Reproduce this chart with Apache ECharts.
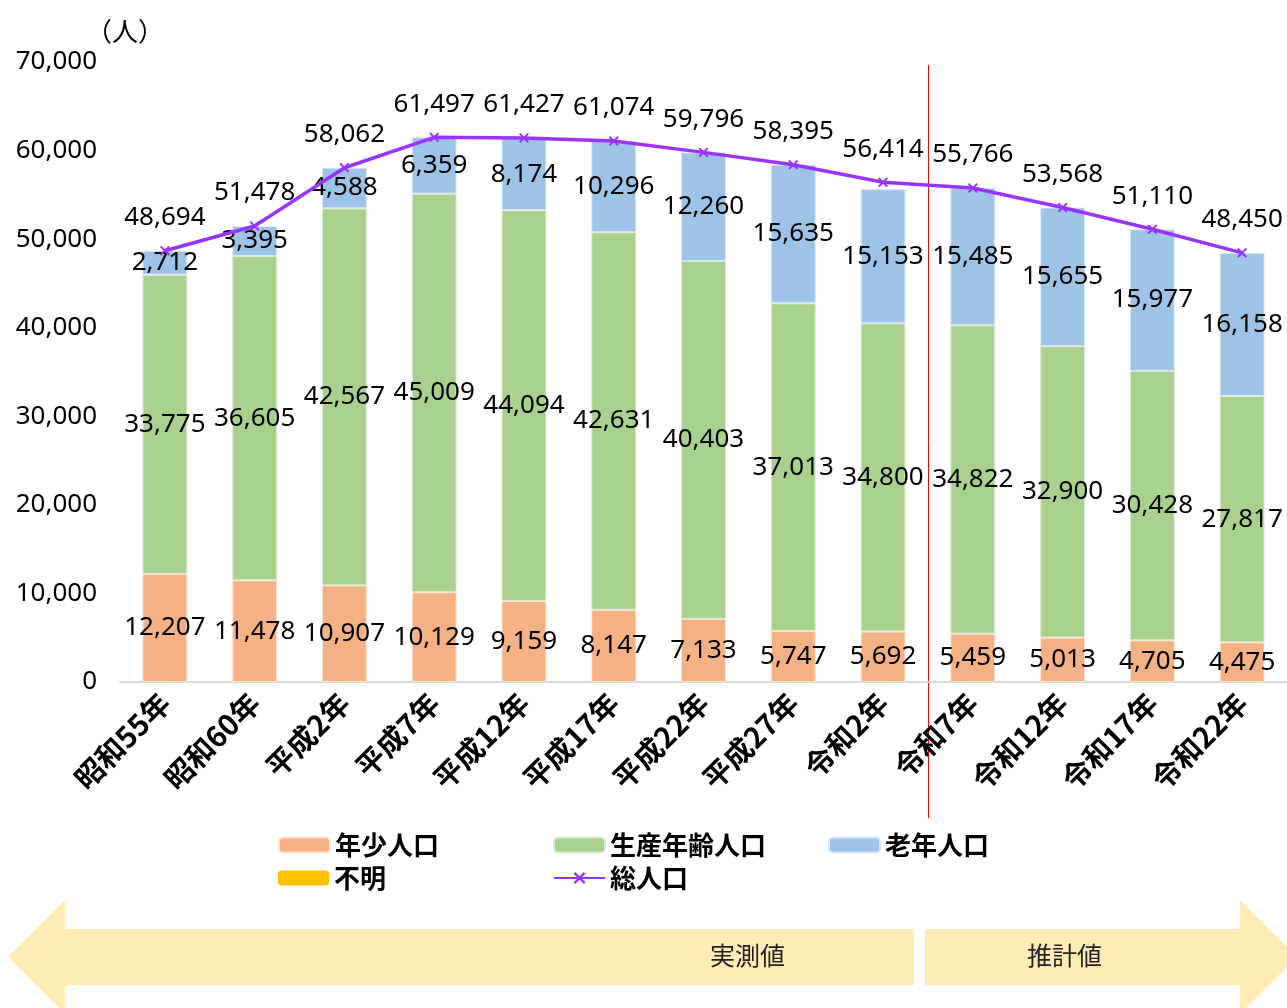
<!DOCTYPE html>
<html>
<head>
<meta charset="utf-8">
<script src="https://cdn.jsdelivr.net/npm/echarts@6/dist/echarts.min.js"></script>
<style>
  html, body { margin: 0; padding: 0; background: #fff; }
  #main { width: 1287px; height: 1008px; }
</style>
</head>
<body>
<div id="main"></div>
<script>
var years = ['昭和55年', '昭和60年', '平成2年', '平成7年', '平成12年', '平成17年', '平成22年',
  '平成27年', '令和2年', '令和7年', '令和12年', '令和17年', '令和22年'];
var young = [12207, 11478, 10907, 10129, 9159, 8147, 7133, 5747, 5692, 5459, 5013, 4705, 4475];
var working = [33775, 36605, 42567, 45009, 44094, 42631, 40403, 37013, 34800, 34822, 32900, 30428, 27817];
var elderly = [2712, 3395, 4588, 6359, 8174, 10296, 12260, 15635, 15153, 15485, 15655, 15977, 16158];
var unknown = [0, 0, 0, 0, 0, 0, 0, 0, 0, 0, 0, 0, 0];
var total = [48694, 51478, 58062, 61497, 61427, 61074, 59796, 58395, 56414, 55766, 53568, 51110, 48450];
var yTicks = { min: 0, max: 70000, interval: 10000 };

var numFont = "'Noto Sans', 'Noto Sans CJK JP', sans-serif";
var jpFont = "'Noto Sans CJK JP', sans-serif";
var purple = '#9933ff';

function fmt(v) {
  return String(v).replace(/\B(?=(\d{3})+(?!\d))/g, ',');
}

var segLabel = {
  show: true,
  position: 'inside',
  color: '#000',
  fontSize: 26,
  fontFamily: numFont,
  padding: [5, 0, 0, 0],
  formatter: function (p) { return fmt(p.value); }
};

var xMark = 'path://M0,1.4L1.4,0L5,3.6L8.6,0L10,1.4L6.4,5L10,8.6L8.6,10L5,6.4L1.4,10L0,8.6L3.6,5Z';

function legendAt(name, left, top) {
  return {
    data: [name],
    left: left,
    top: top,
    itemWidth: 51,
    itemHeight: 15,
    itemGap: 0,
    selectedMode: false,
    textStyle: { fontSize: 26, fontWeight: 'bold', color: '#000', fontFamily: jpFont }
  };
}

var myChart = echarts.init(document.getElementById('main'));
var option = {
  animation: false,
  backgroundColor: '#fff',
  grid: { left: 120, right: 0, top: 62, bottom: 326 },
  legend: [
    legendAt('年少人口', 273, 827),
    legendAt('生産年齢人口', 548, 827),
    legendAt('老年人口', 823, 827),
    legendAt('不明', 273, 860),
    legendAt('総人口', 548, 860)
  ],
  xAxis: {
    type: 'category',
    data: years,
    axisLine: { lineStyle: { color: '#d9d9d9', width: 2 } },
    axisTick: { show: false },
    axisLabel: {
      rotate: 45,
      interval: 0,
      margin: 16,
      fontSize: 29,
      fontWeight: 'bold',
      color: '#000',
      fontFamily: jpFont
    }
  },
  yAxis: {
    type: 'value',
    min: yTicks.min,
    max: yTicks.max,
    interval: yTicks.interval,
    name: '（人）',
    nameLocation: 'end',
    nameGap: 18,
    nameTextStyle: { fontSize: 26, color: '#000', fontFamily: jpFont, padding: [0, 0, 0, 10] },
    axisLine: { show: false },
    axisTick: { show: false },
    splitLine: { show: false },
    axisLabel: {
      margin: 23,
      fontSize: 26,
      color: '#000',
      fontFamily: numFont,
      padding: [4, 0, 0, 0],
      formatter: function (v) { return fmt(v); }
    }
  },
  series: [
    {
      name: '年少人口', type: 'bar', stack: 'pop', barWidth: '50%',
      itemStyle: { color: '#f4b183', borderColor: '#fbe3d3', borderWidth: 1 },
      label: segLabel, data: young
    },
    {
      name: '生産年齢人口', type: 'bar', stack: 'pop',
      itemStyle: { color: '#a9d18e', borderColor: '#dcecd1', borderWidth: 1 },
      label: segLabel, data: working
    },
    {
      name: '老年人口', type: 'bar', stack: 'pop',
      itemStyle: { color: '#9dc3e6', borderColor: '#d8e8f6', borderWidth: 1 },
      label: segLabel, data: elderly
    },
    {
      name: '不明', type: 'bar', stack: 'pop',
      itemStyle: { color: '#ffc000' },
      data: unknown
    },
    {
      name: '総人口', type: 'line',
      symbol: xMark, symbolSize: 10,
      itemStyle: { color: purple },
      lineStyle: { color: purple, width: 3.5 },
      label: {
        show: true, position: 'top', distance: 15,
        color: '#000', fontSize: 26, fontFamily: numFont,
        formatter: function (p) { return fmt(p.value); }
      },
      z: 5,
      data: total
    }
  ]
};
myChart.setOption(option);

// divider between measured and projected values, plus the bottom arrows
var xa = myChart.convertToPixel({ xAxisIndex: 0 }, 8);
var xb = myChart.convertToPixel({ xAxisIndex: 0 }, 9);
var splitX = Math.round((xa + xb) / 2) + 0.5;
myChart.setOption({
  graphic: [
    {
      type: 'line', silent: true,
      shape: { x1: splitX, y1: 65, x2: splitX, y2: 818 },
      style: { stroke: '#ff0000', lineWidth: 1 }
    },
    {
      type: 'polygon', silent: true,
      shape: { points: [[8, 957], [65, 900], [65, 929], [914, 929], [914, 985], [65, 985], [65, 1014]] },
      style: { fill: '#ffecb4' }
    },
    {
      type: 'polygon', silent: true,
      shape: { points: [[925, 929], [1240, 929], [1240, 900], [1297, 957], [1240, 1014], [1240, 985], [925, 985]] },
      style: { fill: '#ffecb4' }
    },
    {
      type: 'text', silent: true, left: 710, top: 943,
      style: { text: '実測値', fontSize: 25, fill: '#222', fontFamily: jpFont }
    },
    {
      type: 'text', silent: true, left: 1027, top: 943,
      style: { text: '推計値', fontSize: 25, fill: '#222', fontFamily: jpFont }
    }
  ]
});
</script>
</body>
</html>
